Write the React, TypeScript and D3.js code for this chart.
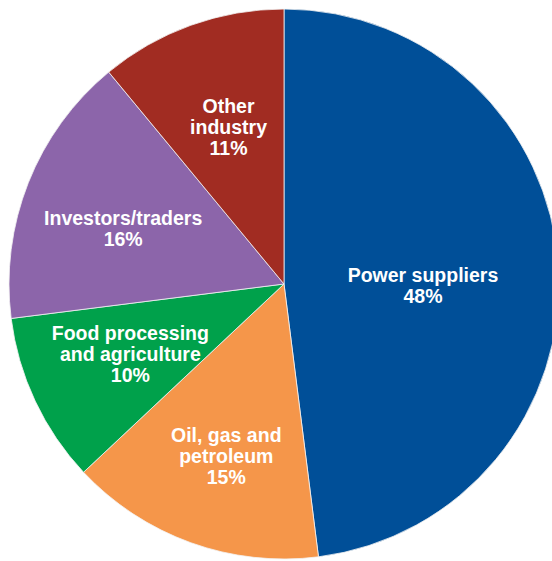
import React from 'react';
import * as d3 from 'd3';

const SECTORS = [
  ['Power suppliers'],
  ['Oil, gas and', 'petroleum'],
  ['Food processing', 'and agriculture'],
  ['Investors/traders'],
  ['Other', 'industry'],
];
const SHARES = [48, 15, 10, 16, 11];
const COLORS = ['#004f98', '#f5964a', '#00a14b', '#8c65aa', '#a12c22'];

const W = 552;
const H = 561;
const CX = 284;
const CY = 284;
const R = 275;
// label placement: distance from centre and a small angle nudge (deg) off the slice middle
const LABEL_R = [139, 181, 169, 170, 167];
const LABEL_DA = [4.2, -1.2, 0.6, -2.7, 0.4];

export default function App() {
  const pie = d3.pie<number>().sort(null).value(d => d);
  const arcs = pie(SHARES);
  const arc = d3.arc<d3.PieArcDatum<number>>().innerRadius(0).outerRadius(R);
  const fs = 19.5;
  const lineH = 21;

  return (
    <svg
      width={W}
      height={H}
      style={{ position: 'absolute', left: 0, top: 0 }}
      fontFamily="'Liberation Sans', Arial, Helvetica, sans-serif"
    >
      <g transform={`translate(${CX},${CY})`}>
        {arcs.map((a, i) => (
          <path key={'s' + i} d={arc(a) || ''} fill={COLORS[i]} stroke="#f2f2f2" strokeWidth={0.8} />
        ))}
        {arcs.map((a, i) => {
          const mid = (a.startAngle + a.endAngle) / 2 + (LABEL_DA[i] * Math.PI) / 180;
          const lr = LABEL_R[i];
          const x = lr * Math.sin(mid);
          const y = -lr * Math.cos(mid);
          const lines = [...SECTORS[i], SHARES[i] + '%'];
          const top = y - ((lines.length - 1) * lineH) / 2;
          return (
            <text key={'l' + i} textAnchor="middle" fill="#ffffff" fontWeight="bold" fontSize={fs}>
              {lines.map((t, j) => (
                <tspan key={j} x={x} y={top + j * lineH + fs * 0.36}>
                  {t}
                </tspan>
              ))}
            </text>
          );
        })}
      </g>
    </svg>
  );
}
